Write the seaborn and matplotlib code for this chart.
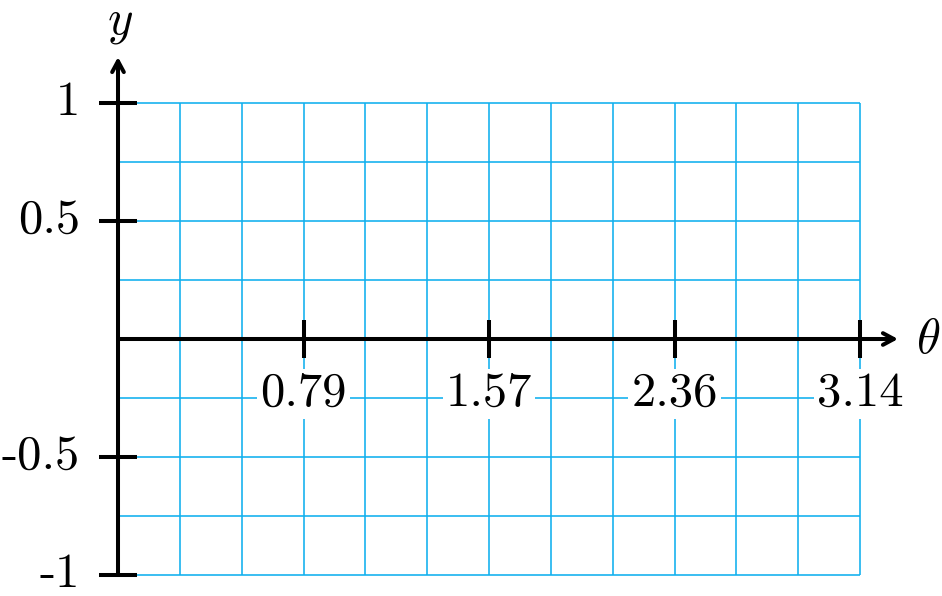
import numpy as np
import matplotlib.pyplot as plt
import seaborn as sns

# ----------------------------------------------------------
# data
# ----------------------------------------------------------
x_ticks = [np.pi / 4, np.pi / 2, 3 * np.pi / 4, np.pi]
x_tick_labels = ["0.79", "1.57", "2.36", "3.14"]
y_ticks = [1, 0.5, -0.5, -1]
y_tick_labels = ["1", "0.5", "-0.5", "-1"]
x_grid = np.linspace(0, np.pi, 13)      # pi/12 steps
y_grid = np.linspace(-1, 1, 9)          # 0.25 steps

GRID_COLOR = "#0fb0ee"
FS = 35

sns.set_theme(style="white")
plt.rcParams["mathtext.fontset"] = "cm"

fig = plt.figure(figsize=(9.42, 5.96), dpi=100)
ax = fig.add_axes([0, 0, 1, 1])
ax.axis("off")

# pixel mapping: x=0 -> 118px, x=pi -> 860px ; y=0 -> 339px, 236px per unit
ax.set_xlim(-118 / 742 * np.pi, (942 - 118) / 742 * np.pi)
ax.set_ylim(-257 / 236, 339 / 236)

# grid
ax.vlines(x_grid, -1, 1, color=GRID_COLOR, lw=1.15, zorder=1)
ax.hlines(y_grid, 0, np.pi, color=GRID_COLOR, lw=1.15, zorder=1)

# axes with arrows
arrow = dict(arrowstyle="->,head_length=0.65,head_width=0.35", lw=2.9,
             color="black", shrinkA=0, shrinkB=0)
ax.annotate("", xy=(780 / 742 * np.pi, 0), xytext=(0, 0), arrowprops=arrow, zorder=4)
ax.annotate("", xy=(0, 282 / 236), xytext=(0, -1), arrowprops=arrow, zorder=4)

# ticks
tx = 19 / 742 * np.pi
ty = 19 / 236
for xv in x_ticks:
    ax.plot([xv, xv], [-ty, ty], color="black", lw=2.9, zorder=4, solid_capstyle="butt")
for yv in y_ticks:
    ax.plot([-tx, tx], [yv, yv], color="black", lw=2.9, zorder=4, solid_capstyle="butt")

# tick labels
for xv, lab in zip(x_ticks, x_tick_labels):
    ax.text(xv, -55 / 236, lab, ha="center", va="center", fontsize=FS,
            family="cmr10", color="black", zorder=3,
            bbox=dict(fc="white", ec="none", pad=2))
for yv, lab in zip(y_ticks, y_tick_labels):
    ax.text(-38 / 742 * np.pi, yv, lab, ha="right", va="center", fontsize=FS,
            family="cmr10", color="black", zorder=3)

# axis labels
ax.text(2 / 742 * np.pi, 305 / 236, r"$y$", ha="center", va="baseline",
        fontsize=FS, color="black")
ax.text(810 / 742 * np.pi, 0, r"$\theta$", ha="center", va="center",
        fontsize=FS, color="black")

plt.savefig("out.png", dpi=100)
